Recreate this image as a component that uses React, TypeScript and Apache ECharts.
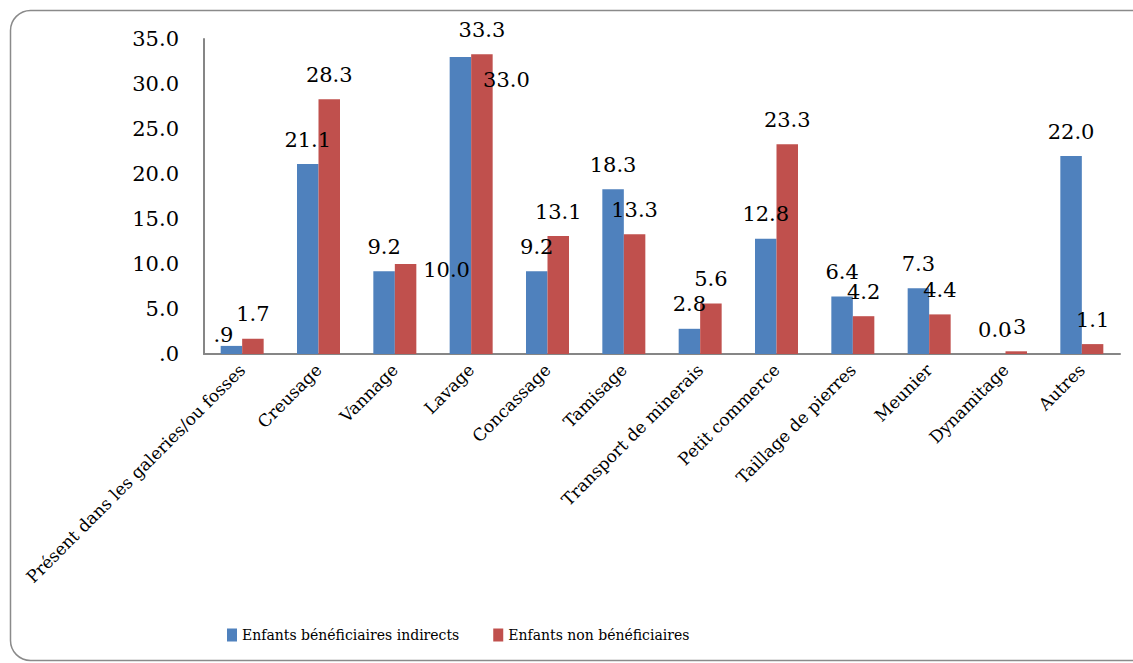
import React, { useEffect, useRef } from "react";
import * as echarts from "echarts";

const categories = [
  "Présent dans les galeries/ou fosses",
  "Creusage",
  "Vannage",
  "Lavage",
  "Concassage",
  "Tamisage",
  "Transport de minerais",
  "Petit commerce",
  "Taillage de pierres",
  "Meunier",
  "Dynamitage",
  "Autres",
];

const seriesNames = ["Enfants bénéficiaires indirects", "Enfants non bénéficiaires"];

const beneficiairesIndirects = [0.9, 21.1, 9.2, 33.0, 9.2, 18.3, 2.8, 12.8, 6.4, 7.3, 0.0, 22.0];
const nonBeneficiaires = [1.7, 28.3, 10.0, 33.3, 13.1, 13.3, 5.6, 23.3, 4.2, 4.4, 0.3, 1.1];

const yTicks = { min: 0, max: 35, interval: 5 };

const FONT = "DejaVu Serif";

function fmtLabel(v: number): string {
  if (v === 0) return "0.0";
  if (v < 1) return v.toFixed(1).slice(1);
  return v.toFixed(1);
}

// label nudges mimicking the original's collided label placement
const labelShift: Record<string, [number, number]> = {
  "0-0": [-8, 14],
  "1-2": [41, 30],
  "0-3": [46, 47],
};

function buildData(values: number[], s: number) {
  return values.map((v, i) => {
    const sh = labelShift[`${s}-${i}`];
    return sh ? { value: v, label: { offset: sh } } : { value: v };
  });
}

export default function App() {
  const ref = useRef<HTMLDivElement>(null);
  useEffect(() => {
    if (!ref.current) return;
    const chart = echarts.init(ref.current, undefined, { renderer: "svg" });
    const colors = ["#4F81BD", "#C0504D"];
    const labelCommon = {
      show: true,
      position: "top" as const,
      distance: 14,
      color: "#000",
      fontFamily: FONT,
      fontSize: 21,
      formatter: (p: any) => fmtLabel(p.value),
    };
    chart.setOption({
      animation: false,
      backgroundColor: "#fff",
      color: colors,
      textStyle: { fontFamily: FONT },
      graphic: [
        {
          type: "rect",
          shape: { x: 10.5, y: 10.5, width: 1150, height: 650, r: 20 },
          style: { fill: "none", stroke: "#8a8a8a", lineWidth: 1.5 },
          silent: true,
        },
      ],
      grid: { left: 204, top: 39, right: 13, bottom: 309, containLabel: false },
      legend: {
        left: 222,
        top: 623,
        itemWidth: 10,
        itemHeight: 13,
        itemGap: 34,
        icon: "rect",
        textStyle: {
          fontFamily: FONT,
          fontSize: 14,
          color: "#000",
        },
        data: seriesNames,
      },
      xAxis: {
        type: "category",
        data: categories,
        axisLine: { show: true, lineStyle: { color: "#868686", width: 2 } },
        axisTick: { show: false },
        axisLabel: {
          rotate: 45,
          interval: 0,
          margin: 13,
          color: "#000",
          fontFamily: FONT,
          fontSize: 17,
        },
      },
      yAxis: {
        type: "value",
        min: yTicks.min,
        max: yTicks.max,
        interval: yTicks.interval,
        splitLine: { show: false },
        axisLine: { show: true, lineStyle: { color: "#868686", width: 2 } },
        axisTick: { show: false },
        axisLabel: {
          margin: 25,
          color: "#000",
          fontFamily: FONT,
          fontSize: 21,
          formatter: (v: number) => (v === 0 ? ".0" : v.toFixed(1)),
        },
      },
      series: [
        {
          name: seriesNames[0],
          type: "bar",
          data: buildData(beneficiairesIndirects, 0),
          barWidth: 21.5,
          barGap: "0%",
          label: labelCommon,
          itemStyle: { color: colors[0] },
        },
        {
          name: seriesNames[1],
          type: "bar",
          data: buildData(nonBeneficiaires, 1),
          barWidth: 21.5,
          barGap: "0%",
          label: labelCommon,
          itemStyle: { color: colors[1] },
        },
      ],
    });
    return () => chart.dispose();
  }, []);
  return (
    <div
      ref={ref}
      style={{ position: "fixed", left: 0, top: 0, width: 1133, height: 663, background: "#fff" }}
    />
  );
}
